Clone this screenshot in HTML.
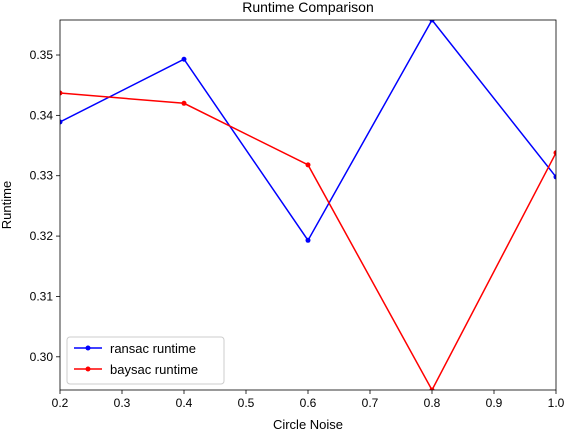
<!DOCTYPE html>
<html><head><meta charset="utf-8"><style>
body{margin:0;background:#fff;}
svg text{font-family:"Liberation Sans","DejaVu Sans",sans-serif;fill:#000;}
</style></head><body>
<svg id="chart" width="567" height="433" xmlns="http://www.w3.org/2000/svg">
<rect x="0" y="0" width="567" height="433" fill="#fff"/>
<g id="plot"></g>
</svg>
<script>
const xValues=[0.2,0.4,0.6,0.8,1.0];
const ransacRuntime=[0.3389,0.3493,0.3193,0.3558,0.3298];
const baysacRuntime=[0.3437,0.3420,0.3318,0.2945,0.3338];
const xTicks=[0.2,0.3,0.4,0.5,0.6,0.7,0.8,0.9,1.0];
const yTicks=[0.30,0.31,0.32,0.33,0.34,0.35];
const L=60,R=556,T=20,B=390;
const xMin=0.2,xMax=1.0,yMin=0.2945,yMax=0.3558;
const sx=v=>L+(v-xMin)/(xMax-xMin)*(R-L);
const sy=v=>B-(v-yMin)/(yMax-yMin)*(B-T);
const g=document.getElementById('plot');
const NS='http://www.w3.org/2000/svg';
function mk(tag,attrs,parent){const e=document.createElementNS(NS,tag);for(const k in attrs)e.setAttribute(k,attrs[k]);(parent||g).appendChild(e);return e;}
// ticks
xTicks.forEach(t=>{const x=sx(t);
 const l=mk('line',{x1:x,x2:x,y1:B,y2:B+4,stroke:'#000','stroke-width':0.8});
 
 
 const tx=mk('text',{x:x,y:B+17,'font-size':12,'text-anchor':'middle'});tx.textContent=t.toFixed(1);
 
 
});
yTicks.forEach(t=>{const y=sy(t);
 const l=mk('line',{x1:L-4,x2:L,y1:y,y2:y,stroke:'#000','stroke-width':0.8});
 
 
 const tx=mk('text',{x:L-7,y:y+4,'font-size':12,'text-anchor':'end'});tx.textContent=t.toFixed(2);
 
 
});
function series(vals,color,name){
 const pts=vals.map((v,i)=>sx(xValues[i])+','+sy(v)).join(' ');
 const pl=mk('polyline',{points:pts,fill:'none',stroke:color,'stroke-width':1.5});
 
 
 vals.forEach((v,i)=>{const c=mk('circle',{cx:sx(xValues[i]),cy:sy(v),r:2.5,fill:color});
  
  });
}
const clip=mk('clipPath',{id:'cp'});mk('rect',{x:L,y:T,width:R-L,height:B-T},clip);
const sg=mk('g',{'clip-path':'url(#cp)'});
const oldG=g;
(function(){const save=g;})();
function seriesIn(vals,color,name){
 const pts=vals.map((v,i)=>sx(xValues[i])+','+sy(v)).join(' ');
 const pl=mk('polyline',{points:pts,fill:'none',stroke:color,'stroke-width':1.5},sg);
 
 
 vals.forEach((v,i)=>{const c=mk('circle',{cx:sx(xValues[i]),cy:sy(v),r:2.5,fill:color},sg);
  
  });
}
seriesIn(ransacRuntime,'#0000ff','ransac');
seriesIn(baysacRuntime,'#ff0000','baysac');
const fr=mk('rect',{x:L,y:T,width:R-L,height:B-T,fill:'none',stroke:'#000','stroke-width':0.8});


const ti=mk('text',{x:(L+R)/2,y:12,'font-size':14,'text-anchor':'middle'});ti.textContent='Runtime Comparison';


const xl=mk('text',{x:(L+R)/2,y:429,'font-size':13,'text-anchor':'middle'});xl.textContent='Circle Noise';


const yl=mk('text',{x:0,y:0,'font-size':13,'text-anchor':'middle',transform:'translate(11,205) rotate(-90)'});yl.textContent='Runtime';


// legend
const lg=mk('g',{});


mk('rect',{x:67,y:337,width:157,height:47,rx:3,fill:'#fff','fill-opacity':0.8,stroke:'#ccc'},lg);
[['ransac runtime','#0000ff',348],['baysac runtime','#ff0000',369]].forEach(([t,c,y])=>{
 const e=mk('line',{x1:74,x2:102,y1:y,y2:y,stroke:c,'stroke-width':1.5},lg);
 
 
 mk('circle',{cx:88,cy:y,r:2.5,fill:c},lg);
 const tx=mk('text',{x:110,y:y+5,'font-size':13},lg);tx.textContent=t;
 
 
});
</script>
</body></html>
